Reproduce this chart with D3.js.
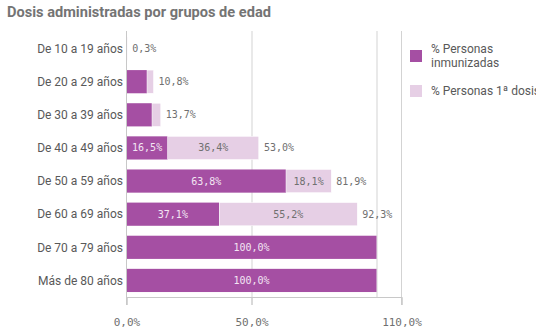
<!DOCTYPE html>
<html>
<head>
<meta charset="utf-8">
<script src="https://cdn.jsdelivr.net/npm/d3@7"></script>
<style>
  body { margin: 0; background: #fff; }
  svg { display: block; }
</style>
</head>
<body>
<svg width="536" height="336"></svg>
<script>
// data
var categories = ["De 10 a 19 años", "De 20 a 29 años", "De 30 a 39 años", "De 40 a 49 años",
                  "De 50 a 59 años", "De 60 a 69 años", "De 70 a 79 años", "Más de 80 años"];
var inmunizadas = [0.0, 8.2, 10.2, 16.5, 63.8, 37.1, 100.0, 100.0];
var primeraDosis = [0.3, 2.6, 3.5, 36.4, 18.1, 55.2, 0.0, 0.0];
var totales = [0.3, 10.8, 13.7, 53.0, 81.9, 92.3, 100.0, 100.0];
var tickValues = [0, 50, 110];
var seriesNames = ["% Personas inmunizadas", "% Personas 1ª dosis"];

var dark = "#a54fa3", light = "#e6cfe5", grey = "#595959";
var labelFont = "Roboto, 'Open Sans', sans-serif";
var numFont = "'DejaVu Sans Mono', monospace";

var svg = d3.select("svg");

var locale = d3.formatLocale({ decimal: ",", thousands: ".", grouping: [3], currency: ["", "€"] });
var fmt = function (v) { return locale.format(".1f")(v) + "%"; };

var x = d3.scaleLinear().domain([0, 110]).range([126.5, 401.5]);
var y = d3.scaleBand().domain(categories).range([32, 297]).paddingInner(0.3).paddingOuter(0.15);

// title
svg.append("text")
    .attr("x", 7).attr("y", 17)
    .style("font-family", labelFont).style("font-size", "14.6px").style("font-weight", "bold")
    .style("fill", "#747474")
    .text("Dosis administradas por grupos de edad");

// gridlines
var grid = svg.append("g");
[50, 100].forEach(function (v) {
    grid.append("line")
        .attr("x1", x(v) + 0.5).attr("x2", x(v) + 0.5)
        .attr("y1", 31).attr("y2", v === 50 ? 305 : 297)
        .style("stroke", "#d3d3d3").style("stroke-width", 1);
});
grid.append("line")
    .attr("x1", x(110)).attr("x2", x(110))
    .attr("y1", 31).attr("y2", 305)
    .style("stroke", "#d3d3d3").style("stroke-width", 1);

// bars
var rows = categories.map(function (c, i) {
    return { cat: c, a: inmunizadas[i], b: primeraDosis[i], total: totales[i] };
});

var g = svg.append("g");
rows.forEach(function (d) {
    var y0 = y(d.cat), h = y.bandwidth();
    if (d.a > 0) {
        g.append("rect")
            .attr("x", x(0)).attr("y", y0)
            .attr("width", x(d.a) - x(0)).attr("height", h)
            .style("fill", dark);
    }
    if (d.b > 0) {
        g.append("rect")
            .attr("x", x(d.a)).attr("y", y0)
            .attr("width", x(d.a + d.b) - x(d.a)).attr("height", h)
            .style("fill", light)
            .style("stroke", "#fff").style("stroke-width", 0.5);
    }
    // segment labels
    if (x(d.a) - x(0) > 40) {
        g.append("text")
            .attr("x", (x(0) + x(d.a)) / 2).attr("y", y0 + h / 2)
            .attr("text-anchor", "middle").attr("dy", "0.35em")
            .style("font-family", numFont).style("font-size", "10px")
            .style("fill", "#f3e6f3")
            .text(fmt(d.a));
    }
    if (x(d.a + d.b) - x(d.a) > 40) {
        g.append("text")
            .attr("x", (x(d.a) + x(d.a + d.b)) / 2).attr("y", y0 + h / 2)
            .attr("text-anchor", "middle").attr("dy", "0.35em")
            .style("font-family", numFont).style("font-size", "10px")
            .style("fill", "#707070")
            .text(fmt(d.b));
    }
    if (d.total < 100) {
        g.append("text")
            .attr("x", x(d.total) + 5).attr("y", y0 + h / 2)
            .attr("dy", "0.35em")
            .style("font-family", numFont).style("font-size", "10px")
            .style("fill", "#707070")
            .text(fmt(d.total));
    }
    // category label
    g.append("text")
        .attr("x", 123).attr("y", y0 + h / 2)
        .attr("text-anchor", "end").attr("dy", "0.35em")
        .style("font-family", labelFont).style("font-size", "12px")
        .style("fill", grey)
        .text(d.cat);
});

// y axis line
svg.append("line")
    .attr("x1", x(0)).attr("x2", x(0)).attr("y1", 31).attr("y2", 305)
    .style("stroke", "#c8c8c8");

// x axis
var xAxis = svg.append("g")
    .attr("transform", "translate(0,297)")
    .call(d3.axisBottom(x).tickValues(tickValues).tickSize(8).tickPadding(13).tickFormat(fmt));
xAxis.select(".domain").style("stroke", "#c8c8c8");
xAxis.selectAll(".tick line").style("stroke", "#c8c8c8");
xAxis.selectAll("text")
    .style("font-family", numFont).style("font-size", "11px").style("fill", "#707070");

// legend
var legend = svg.append("g");
legend.append("rect").attr("x", 410).attr("y", 50).attr("width", 12).attr("height", 12).style("fill", dark);
legend.append("rect").attr("x", 410).attr("y", 85).attr("width", 12).attr("height", 12).style("fill", light);
var lt = legend.append("text")
    .attr("x", 431).attr("y", 53)
    .style("font-family", labelFont).style("font-size", "12px").style("fill", grey);
lt.append("tspan").attr("x", 431).attr("y", 53).text("% Personas");
lt.append("tspan").attr("x", 431).attr("y", 67).text("inmunizadas");
legend.append("text")
    .attr("x", 431).attr("y", 95)
    .style("font-family", labelFont).style("font-size", "12px").style("fill", grey)
    .text(seriesNames[1]);
</script>
</body>
</html>
